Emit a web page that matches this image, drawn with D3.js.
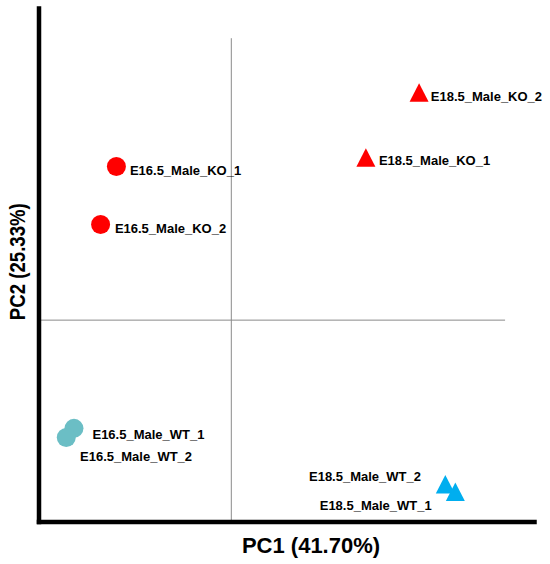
<!DOCTYPE html>
<html>
<head>
<meta charset="utf-8">
<script src="https://cdn.jsdelivr.net/npm/d3@7"></script>
<style>
  html, body { margin: 0; padding: 0; background: #fff; }
  svg { display: block; }
  text { font-family: "Liberation Sans", Arial, Helvetica, sans-serif; font-weight: bold; }
</style>
</head>
<body>
<svg id="chart" width="550" height="564"></svg>
<script>
// ---- Data ----
const samples = ["E16.5_Male_KO_1", "E16.5_Male_KO_2", "E16.5_Male_WT_1", "E16.5_Male_WT_2",
                 "E18.5_Male_KO_1", "E18.5_Male_KO_2", "E18.5_Male_WT_1", "E18.5_Male_WT_2"];
const pc1 = [-29.8, -33.9, -40.8, -42.8, 34.9, 48.7, 58.1, 55.5];
const pc2 = [30.5, 19.0, -21.5, -23.3, 31.7, 44.6, -34.7, -33.2];
const groups = ["E16.5_KO", "E16.5_KO", "E16.5_WT", "E16.5_WT", "E18.5_KO", "E18.5_KO", "E18.5_WT", "E18.5_WT"];
const xLabel = "PC1 (41.70%)";
const yLabel = "PC2 (25.33%)";
const xDomain = [-50, 78.5];
const yDomain = [-40, 62];
const crossTop = 56;     // PC2 value where the vertical zero line ends
const crossRight = 71;   // PC1 value where the horizontal zero line ends

// ---- Styles / layout ----
const groupColor = { "E16.5_KO": "#ff0000", "E16.5_WT": "#6bbec5", "E18.5_KO": "#ff0000", "E18.5_WT": "#00aeef" };
const groupShape = { "E16.5_KO": "circle", "E16.5_WT": "circle", "E18.5_KO": "triangle", "E18.5_WT": "triangle" };
// label offsets in pixels: [dx, dy, anchor]
const labelOffsets = [[13.5, 8.3, "start"], [14.3, 8.2, "start"], [18.5, 10.8, "start"], [13.8, 24, "start"],
                      [13, 4.4, "start"], [11.7, 5, "start"], [-23.6, 14.8, "end"], [-24.3, -6.6, "end"]];

const svg = d3.select("#chart");
const x = d3.scaleLinear().domain(xDomain).range([38.5, 534]);
const y = d3.scaleLinear().domain(yDomain).range([521.5, 8]);

const data = samples.map((s, i) => ({ name: s, x: pc1[i], y: pc2[i], g: groups[i], off: labelOffsets[i] }));

// zero cross lines
svg.append("line")
  .attr("x1", x(0)).attr("x2", x(0))
  .attr("y1", y(crossTop)).attr("y2", y(yDomain[0]))
  .attr("stroke", "#8a8a8a").attr("stroke-width", 1);
svg.append("line")
  .attr("x1", x(xDomain[0])).attr("x2", x(crossRight))
  .attr("y1", y(0)).attr("y2", y(0))
  .attr("stroke", "#8a8a8a").attr("stroke-width", 1);

// axes (domain lines only)
const gx = svg.append("g").attr("transform", `translate(0,${y(yDomain[0])})`)
  .call(d3.axisBottom(x).ticks(0).tickSizeOuter(0));
const gy = svg.append("g").attr("transform", `translate(${x(xDomain[0])},0)`)
  .call(d3.axisLeft(y).ticks(0).tickSizeOuter(0));
[gx, gy].forEach(g => {
  g.selectAll("text").remove();
  g.select(".domain").attr("stroke", "#000").attr("stroke-width", 4.5).attr("stroke-linecap", "square");
});

// markers
const tri = (w, h) => `M0,${-2 * h / 3}L${w / 2},${h / 3}L${-w / 2},${h / 3}Z`;
const pts = svg.append("g");
data.forEach(d => {
  const cx = x(d.x), cy = y(d.y);
  if (groupShape[d.g] === "circle") {
    pts.append("circle").attr("cx", cx).attr("cy", cy).attr("r", 9.5).attr("fill", groupColor[d.g]);
  } else {
    pts.append("path").attr("d", tri(19, 18.4)).attr("transform", `translate(${cx},${cy})`).attr("fill", groupColor[d.g]);
  }
});

// labels
svg.append("g").selectAll("text").data(data).join("text")
  .attr("x", d => x(d.x) + d.off[0])
  .attr("y", d => y(d.y) + d.off[1])
  .attr("text-anchor", d => d.off[2])
  .attr("font-size", 13)
  .attr("fill", "#000")
  .text(d => d.name);

// axis titles
svg.append("text")
  .attr("x", (242.7 + 379.3) / 2).attr("y", 553.3)
  .attr("text-anchor", "middle").attr("font-size", 22).attr("fill", "#000")
  .text(xLabel);
svg.append("text")
  .attr("transform", "translate(25,261.7) rotate(-90)")
  .attr("text-anchor", "middle").attr("font-size", 22).attr("fill", "#000")
  .attr("textLength", 117).attr("lengthAdjust", "spacingAndGlyphs")
  .text(yLabel);
</script>
</body>
</html>
